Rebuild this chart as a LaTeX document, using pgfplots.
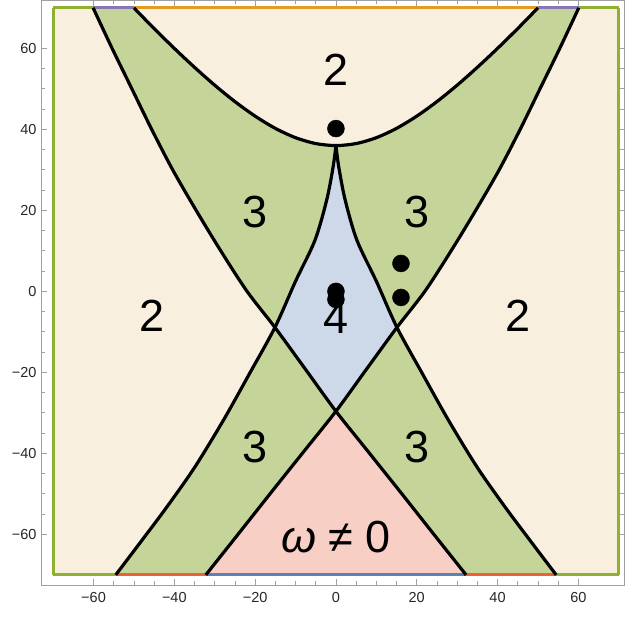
\documentclass[border=0pt]{standalone}
\usepackage{fontspec}
\setmainfont{Liberation Sans}
\usepackage{pgfplots}
\pgfplotsset{compat=1.18}
\definecolor{bgO}{RGB}{249,239,223}
\definecolor{grF}{RGB}{197,213,154}
\definecolor{blF}{RGB}{205,217,233}
\definecolor{pkF}{RGB}{248,207,196}
\definecolor{mB}{RGB}{94,129,181}
\definecolor{mO}{RGB}{225,156,36}
\definecolor{mG}{RGB}{143,176,50}
\definecolor{mR}{RGB}{235,98,53}
\definecolor{mP}{RGB}{135,120,179}
\definecolor{frm}{RGB}{160,160,160}
\newcommand\bigf{\fontsize{45}{45}\selectfont}
\begin{document}
\begin{tikzpicture}
\begin{axis}[
  scale only axis, width=583pt, height=585pt,
  xmin=-73, xmax=71.3, ymin=-72.6, ymax=71.85,
  axis line style={frm, line width=0.8pt},
  tick style={frm, line width=0.8pt},
  tick align=inside,
  major tick length=6pt, minor tick length=4pt,
  xtick={-60,-40,-20,0,20,40,60},
  xticklabels={−60,−40,−20,0,20,40,60},
  ytick={-60,-40,-20,0,20,40,60},
  yticklabels={−60,−40,−20,0,20,40,60},
  minor x tick num=3, minor y tick num=3,
  ticklabel style={font=\fontsize{14.5}{15}\selectfont, text=black!85},
  xticklabel style={yshift=-3pt},
  yticklabel style={xshift=-1pt},
  clip=false,
]
\coordinate (SW) at (rel axis cs:0,0);
\coordinate (NE) at (rel axis cs:1,1);
% background
\addplot[fill=bgO, draw=none] coordinates {(-70,-70)(70,-70)(70,70)(-70,70)} -- cycle;
% upper-left green
\addplot[fill=grF, draw=none] coordinates {(-60.1,70)(-55.4,60)(-50.5,50)(-45.6,40)(-40.4,30)(-34.6,20)(-28.5,10)(-22,0)(-15.1,-8.9)(-10,2.5)(-5.2,12.6)(-2.3,22.5)(-0.7,30.7)(0,36)(-5,36.5)(-10,37.95)(-15,40.25)(-20,43.27)(-25,46.86)(-30,50.91)(-35,55.32)(-40,60)(-45,64.9)(-50,70)} -- cycle;
% upper-right green
\addplot[fill=grF, draw=none] coordinates {(60.1,70)(55.4,60)(50.5,50)(45.6,40)(40.4,30)(34.6,20)(28.5,10)(22,0)(15.1,-8.9)(10,2.5)(5.2,12.6)(2.3,22.5)(0.7,30.7)(0,36)(5,36.5)(10,37.95)(15,40.25)(20,43.27)(25,46.86)(30,50.91)(35,55.32)(40,60)(45,64.9)(50,70)} -- cycle;
% lower-left green
\addplot[fill=grF, draw=none] coordinates {(-54.5,-70)(-48.2,-61.7)(-41.9,-53.3)(-35,-43.5)(-27.9,-31.9)(-21.5,-20.5)(-15.1,-8.9)(-7.5,-19.3)(0,-29.6)(-8,-39.6)(-16,-49.6)(-24,-59.7)(-32.2,-70)} -- cycle;
% lower-right green
\addplot[fill=grF, draw=none] coordinates {(54.5,-70)(48.2,-61.7)(41.9,-53.3)(35,-43.5)(27.9,-31.9)(21.5,-20.5)(15.1,-8.9)(7.5,-19.3)(0,-29.6)(8,-39.6)(16,-49.6)(24,-59.7)(32.2,-70)} -- cycle;
% blue diamond
\addplot[fill=blF, draw=none] coordinates {(-15.1,-8.9)(-10,2.5)(-5.2,12.6)(-2.3,22.5)(-0.7,30.7)(0,36)(0.7,30.7)(2.3,22.5)(5.2,12.6)(10,2.5)(15.1,-8.9)(7.5,-19.3)(0,-29.6)(-7.5,-19.3)} -- cycle;
% pink triangle
\addplot[fill=pkF, draw=none] coordinates {(0,-29.6)(8,-39.6)(16,-49.6)(24,-59.7)(32.2,-70)(-32.2,-70)(-24,-59.7)(-16,-49.6)(-8,-39.6)} -- cycle;
% region borders along the plot edge
\addplot[mG, line width=3pt] coordinates {(-70,-70)(-70,70)};
\addplot[mG, line width=3pt] coordinates {(70,-70)(70,70)};
\addplot[mG, line width=3pt] coordinates {(-70,70)(-60.1,70)};
\addplot[mP, line width=3pt] coordinates {(-60.1,70)(-50,70)};
\addplot[mO, line width=3pt] coordinates {(-50,70)(50,70)};
\addplot[mP, line width=3pt] coordinates {(50,70)(60.1,70)};
\addplot[mG, line width=3pt] coordinates {(60.1,70)(70,70)};
\addplot[mG, line width=3pt] coordinates {(-70,-70)(-54.5,-70)};
\addplot[mR, line width=3pt] coordinates {(-54.5,-70)(-32.2,-70)};
\addplot[mB, line width=3pt] coordinates {(-32.2,-70)(32.2,-70)};
\addplot[mR, line width=3pt] coordinates {(32.2,-70)(54.5,-70)};
\addplot[mG, line width=3pt] coordinates {(54.5,-70)(70,-70)};
% black boundary curves
\addplot[black, line width=3.2pt, smooth] coordinates {(-60.1,70)(-55.4,60)(-50.5,50)(-45.6,40)(-40.4,30)(-34.6,20)(-28.5,10)(-22,0)(-15.1,-8.9)(-7.5,-19.3)(0,-29.6)(8,-39.6)(16,-49.6)(24,-59.7)(32.2,-70)};
\addplot[black, line width=3.2pt, smooth] coordinates {(60.1,70)(55.4,60)(50.5,50)(45.6,40)(40.4,30)(34.6,20)(28.5,10)(22,0)(15.1,-8.9)(7.5,-19.3)(0,-29.6)(-8,-39.6)(-16,-49.6)(-24,-59.7)(-32.2,-70)};
\addplot[black, line width=3.2pt, smooth] coordinates {(-54.5,-70)(-48.2,-61.7)(-41.9,-53.3)(-35,-43.5)(-27.9,-31.9)(-21.5,-20.5)(-15.1,-8.9)(-10,2.5)(-5.2,12.6)(-2.3,22.5)(-0.7,30.7)(0,36)};
\addplot[black, line width=3.2pt, smooth] coordinates {(54.5,-70)(48.2,-61.7)(41.9,-53.3)(35,-43.5)(27.9,-31.9)(21.5,-20.5)(15.1,-8.9)(10,2.5)(5.2,12.6)(2.3,22.5)(0.7,30.7)(0,36)};
\addplot[black, line width=3.2pt, smooth] coordinates {(-50,70)(-45,64.9)(-40,60)(-35,55.32)(-30,50.91)(-25,46.86)(-20,43.27)(-15,40.25)(-10,37.95)(-5,36.5)(0,36)(5,36.5)(10,37.95)(15,40.25)(20,43.27)(25,46.86)(30,50.91)(35,55.32)(40,60)(45,64.9)(50,70)};
% labels
\node[font=\bigf] at (axis cs:0,54.6) {2};
\node[font=\bigf] at (axis cs:-20,19.5) {3};
\node[font=\bigf] at (axis cs:20,19.5) {3};
\node[font=\bigf] at (axis cs:-45.5,-6) {2};
\node[font=\bigf] at (axis cs:45,-6) {2};
\node[font=\bigf] at (axis cs:0,-6.7) {4};
\node[font=\bigf] at (axis cs:-20,-38.5) {3};
\node[font=\bigf] at (axis cs:20,-38.5) {3};
\node[font=\bigf] at (axis cs:0,-60.7) {\textit{ω} ≠ 0};
% points
\addplot[only marks, mark=*, mark size=8.5pt, black] coordinates {(0,40.2)(16.1,6.9)(16.1,-1.5)(0,0)(0,-2)};
\end{axis}
\path[use as bounding box] ([shift={(-41pt,-32pt)}]SW) rectangle ([shift={(1pt,0pt)}]NE);
\end{tikzpicture}
\end{document}
